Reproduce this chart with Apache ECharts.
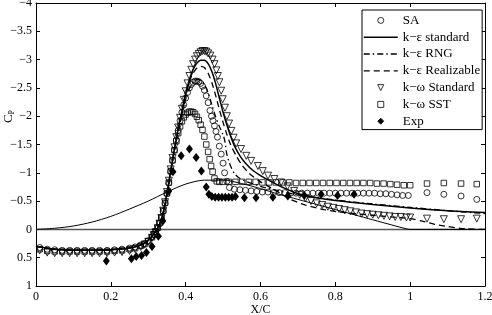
<!DOCTYPE html>
<html>
<head>
<meta charset="utf-8">
<script src="https://cdn.jsdelivr.net/npm/echarts@6/dist/echarts.min.js"></script>
<style>
html,body{margin:0;padding:0;background:#fff}
#chart{width:492px;height:315px}
</style>
</head>
<body>
<div id="chart"></div>
<script>
// x/c positions and Cp values
const xTicks = [0, 0.2, 0.4, 0.6, 0.8, 1, 1.2];
const yTicks = [-4, -3.5, -3, -2.5, -2, -1.5, -1, -0.5, 0, 0.5, 1];

const saPts = [[0.01,0.32],[0.03,0.35],[0.05,0.36],[0.07,0.37],[0.09,0.37],[0.11,0.37],[0.13,0.37],[0.15,0.37],[0.17,0.37],[0.19,0.37],[0.21,0.36],[0.23,0.35],[0.25,0.33],
  [0.265,0.31],[0.28,0.28],[0.29,0.25],[0.30,0.2],[0.31,0.13],
  [0.315,0.09],[0.32,0.04],[0.325,-0.02],[0.33,-0.1],[0.335,-0.2],[0.34,-0.32],[0.345,-0.46],[0.35,-0.63],[0.355,-0.82],[0.36,-1.02],[0.365,-1.22],[0.37,-1.4],[0.375,-1.58],[0.38,-1.75],[0.385,-1.92],[0.39,-2.07],[0.395,-2.2],[0.40,-2.32],[0.405,-2.42],[0.41,-2.5],[0.415,-2.56],[0.42,-2.6],[0.425,-2.62],[0.43,-2.62],[0.435,-2.61],[0.44,-2.58],[0.445,-2.53],[0.45,-2.46],[0.455,-2.36],[0.46,-2.24],[0.465,-2.1],
  [0.469,-2.0],[0.473,-1.92],[0.477,-1.83],[0.481,-1.73],[0.485,-1.63],[0.49,-1.47],[0.495,-1.33],[0.50,-1.17],[0.504,-1.0],[0.51,-0.85],[0.517,-0.74],
  [0.53,-0.71],[0.545,-0.7],[0.56,-0.69],[0.575,-0.68],[0.59,-0.67],[0.605,-0.66],[0.62,-0.66],[0.635,-0.65],[0.65,-0.65],[0.665,-0.65],[0.68,-0.64],[0.695,-0.64],[0.71,-0.64],[0.725,-0.64],[0.74,-0.64],[0.755,-0.64],[0.77,-0.64],[0.785,-0.64],[0.80,-0.64],[0.815,-0.64],[0.83,-0.64],[0.845,-0.64],[0.86,-0.64],[0.875,-0.64],[0.89,-0.64],[0.905,-0.64],[0.92,-0.63],[0.935,-0.63],[0.95,-0.62],[0.965,-0.61],[0.98,-0.6],[0.995,-0.6],
  [1.045,-0.65],[1.09,-0.62],[1.136,-0.59],[1.178,-0.53]];

const kwStdPts = [[0.01,0.37],[0.03,0.41],[0.05,0.42],[0.07,0.42],[0.09,0.42],[0.11,0.42],[0.13,0.42],[0.15,0.42],[0.17,0.42],[0.19,0.42],[0.21,0.41],[0.23,0.4],[0.25,0.38],
  [0.265,0.35],[0.28,0.31],[0.29,0.27],[0.30,0.22],[0.31,0.15],[0.315,0.1],[0.32,0.05],[0.325,-0.02],[0.33,-0.1],[0.335,-0.2],[0.34,-0.33],[0.345,-0.48],[0.35,-0.66],[0.355,-0.86],[0.36,-1.06],[0.365,-1.26],[0.37,-1.45],[0.375,-1.63],[0.38,-1.8],[0.385,-1.97],[0.39,-2.13],[0.395,-2.29],[0.40,-2.44],[0.405,-2.58],[0.41,-2.71],[0.415,-2.82],[0.42,-2.92],[0.425,-3.0],[0.43,-3.06],[0.435,-3.1],[0.44,-3.13],[0.445,-3.15],[0.45,-3.15],[0.455,-3.14],[0.46,-3.11],
  [0.466,-3.07],[0.472,-3.0],[0.477,-2.92],[0.482,-2.81],[0.486,-2.71],[0.49,-2.6],[0.495,-2.45],[0.499,-2.3],[0.505,-2.15],[0.51,-2.0],[0.516,-1.87],[0.522,-1.74],[0.528,-1.62],[0.535,-1.52],[0.548,-1.42],[0.562,-1.3],[0.575,-1.21],[0.593,-1.12],[0.606,-1.03],[0.62,-0.95],[0.637,-0.89],[0.655,-0.83],[0.672,-0.76],[0.69,-0.68],[0.705,-0.61],[0.72,-0.55],[0.735,-0.5],[0.75,-0.46],[0.765,-0.43],[0.78,-0.4],[0.795,-0.38],[0.81,-0.36],[0.825,-0.34],[0.84,-0.32],[0.855,-0.3],[0.87,-0.28],[0.885,-0.27],[0.9,-0.26],[0.915,-0.25],[0.93,-0.24],[0.945,-0.23],[0.96,-0.22],[0.975,-0.22],[0.99,-0.21],[1.0,-0.21],
  [1.045,-0.19],[1.09,-0.18],[1.136,-0.18],[1.178,-0.19]];

const sstPts = [[0.01,0.35],[0.03,0.38],[0.05,0.39],[0.07,0.39],[0.09,0.39],[0.11,0.39],[0.13,0.39],[0.15,0.39],[0.17,0.39],[0.19,0.39],[0.21,0.38],[0.23,0.37],[0.25,0.35],
  [0.265,0.33],[0.28,0.29],[0.29,0.26],[0.30,0.21],[0.31,0.14],[0.315,0.09],[0.32,0.04],[0.325,-0.03],[0.33,-0.11],[0.335,-0.21],[0.34,-0.33],[0.345,-0.47],[0.35,-0.64],[0.355,-0.83],[0.36,-1.03],[0.365,-1.22],[0.37,-1.4],[0.375,-1.56],[0.38,-1.7],[0.385,-1.82],[0.39,-1.91],[0.395,-1.98],[0.40,-2.03],[0.405,-2.06],[0.41,-2.08],[0.415,-2.08],[0.42,-2.07],[0.425,-2.04],[0.43,-1.99],[0.435,-1.93],[0.44,-1.85],[0.445,-1.76],[0.45,-1.64],[0.455,-1.5],[0.46,-1.37],[0.464,-1.24],[0.468,-1.12],[0.472,-1.02],[0.477,-0.9],[0.483,-0.85],[0.49,-0.84],[0.5,-0.84],
  [0.515,-0.84],[0.533,-0.84],[0.551,-0.84],[0.569,-0.84],[0.587,-0.84],[0.605,-0.83],[0.623,-0.83],[0.641,-0.83],[0.659,-0.83],[0.677,-0.83],[0.695,-0.82],[0.713,-0.82],[0.731,-0.82],[0.749,-0.82],[0.767,-0.82],[0.785,-0.82],[0.803,-0.82],[0.821,-0.82],[0.839,-0.82],[0.857,-0.82],[0.875,-0.82],[0.893,-0.82],[0.911,-0.81],[0.929,-0.81],[0.947,-0.8],[0.965,-0.79],[0.983,-0.78],[1.0,-0.78],
  [1.045,-0.81],[1.09,-0.82],[1.136,-0.81],[1.178,-0.8]];

const expPts = [[0.188,0.56],[0.255,0.52],[0.268,0.48],[0.282,0.46],[0.295,0.41],[0.31,0.3],[0.327,0.12],[0.339,-0.15],[0.355,-0.68],[0.366,-1.02],[0.388,-1.3],[0.41,-1.42],[0.428,-1.27],[0.442,-1.03],[0.455,-0.75],
  [0.462,-0.62],[0.47,-0.58],[0.479,-0.57],[0.488,-0.57],[0.497,-0.57],[0.506,-0.57],[0.515,-0.57],[0.524,-0.57],[0.533,-0.58],[0.557,-0.56],[0.588,-0.56],[0.633,-0.57],[0.673,-0.59],[0.717,-0.6],[0.762,-0.62],[0.806,-0.6],[0.85,-0.62]];

const keStdPts = [[0,0.30],[0.05,0.35],[0.1,0.37],[0.15,0.37],[0.2,0.36],[0.24,0.34],[0.27,0.3],[0.29,0.24],[0.30,0.19],[0.31,0.12],[0.32,0.03],[0.33,-0.09],[0.34,-0.3],[0.35,-0.63],[0.36,-1.03],[0.37,-1.42],[0.38,-1.77],[0.39,-2.1],[0.40,-2.4],[0.41,-2.65],[0.42,-2.83],[0.43,-2.94],[0.44,-2.99],[0.45,-2.99],[0.46,-2.93],[0.47,-2.79],[0.48,-2.58],[0.49,-2.32],[0.50,-2.07],[0.51,-1.85],[0.52,-1.65],[0.53,-1.48],[0.545,-1.3],[0.56,-1.17],[0.58,-1.04],[0.6,-0.95],[0.63,-0.84],[0.66,-0.74],[0.7,-0.63],[0.75,-0.56],[0.8,-0.51],[0.9,-0.44],[1.0,-0.38],[1.1,-0.33],[1.2,-0.3]];

const keRngPts = [[0,0.30],[0.05,0.35],[0.1,0.37],[0.15,0.37],[0.2,0.36],[0.24,0.34],[0.27,0.3],[0.29,0.24],[0.30,0.19],[0.31,0.12],[0.32,0.03],[0.33,-0.09],[0.34,-0.3],[0.35,-0.63],[0.36,-1.02],[0.37,-1.4],[0.38,-1.74],[0.39,-2.04],[0.40,-2.3],[0.41,-2.49],[0.42,-2.6],[0.43,-2.65],[0.44,-2.64],[0.45,-2.56],[0.46,-2.41],[0.47,-2.2],[0.48,-1.99],[0.49,-1.82],[0.5,-1.67],[0.505,-1.55],[0.51,-1.33],[0.52,-1.12],[0.53,-0.99],[0.545,-0.9],[0.56,-0.85],[0.6,-0.76],[0.65,-0.68],[0.7,-0.61],[0.8,-0.52],[0.9,-0.45],[1.0,-0.39],[1.1,-0.33],[1.2,-0.28]];

const keRealPts = [[0,0.30],[0.05,0.35],[0.1,0.37],[0.15,0.37],[0.2,0.36],[0.24,0.34],[0.27,0.3],[0.29,0.24],[0.30,0.19],[0.31,0.12],[0.32,0.03],[0.33,-0.09],[0.34,-0.3],[0.35,-0.63],[0.36,-1.03],[0.37,-1.42],[0.38,-1.76],[0.39,-2.08],[0.40,-2.37],[0.41,-2.62],[0.42,-2.76],[0.43,-2.85],[0.44,-2.88],[0.45,-2.86],[0.46,-2.76],[0.47,-2.59],[0.48,-2.37],[0.49,-2.12],[0.50,-1.89],[0.51,-1.68],[0.52,-1.5],[0.535,-1.3],[0.55,-1.14],[0.57,-0.99],[0.6,-0.84],[0.64,-0.69],[0.68,-0.53],[0.72,-0.43],[0.77,-0.35],[0.82,-0.3],[0.9,-0.25],[0.95,-0.22],[1.0,-0.19],[1.03,-0.15],[1.065,-0.09],[1.1,-0.05],[1.15,-0.01],[1.2,0.0]];

// hill profile and the zero line (not in the legend)
const profilePts = [[0,0],[0.05,-0.02],[0.1,-0.06],[0.15,-0.13],[0.2,-0.23],[0.25,-0.36],[0.3,-0.5],[0.35,-0.66],[0.4,-0.8],[0.45,-0.87],[0.5,-0.87],[0.55,-0.81],[0.6,-0.72],[0.65,-0.62],[0.7,-0.53],[0.75,-0.44],[0.8,-0.35],[0.85,-0.26],[0.9,-0.17],[0.95,-0.08],[0.99,-0.01],[1.0,0],[1.2,0]];
const zeroPts = [[0,0],[1.2,0]];

const font = 'Liberation Serif';
const fmt = v => (v < 0 ? '\u2212' : '') + Math.abs(v);

const chart = echarts.init(document.getElementById('chart'));

function xAx(pos, labels) {
  return {
    type: 'value', position: pos, min: xTicks[0], max: xTicks[xTicks.length - 1], interval: 0.2,
    splitLine: {show: false},
    axisLine: {show: true, onZero: false, lineStyle: {color: '#000', width: 1}},
    axisTick: {show: true, inside: true, length: 4, lineStyle: {color: '#000'}},
    axisLabel: {show: labels, fontFamily: font, fontSize: 12, color: '#000', margin: 5, formatter: fmt}
  };
}
function yAx(pos, labels) {
  return {
    type: 'value', position: pos, inverse: true, min: yTicks[0], max: yTicks[yTicks.length - 1], interval: 0.5,
    splitLine: {show: false},
    axisLine: {show: true, onZero: false, lineStyle: {color: '#000', width: 1}},
    axisTick: {show: true, inside: true, length: 4, lineStyle: {color: '#000'}},
    axisLabel: {show: labels, fontFamily: font, fontSize: 12, color: '#000', margin: 4, formatter: fmt}
  };
}

const xBottom = xAx('bottom', true);
xBottom.name = 'X/C';
xBottom.nameLocation = 'middle';
xBottom.nameGap = 18;
xBottom.nameMoveOverlap = false;
xBottom.nameTextStyle = {fontFamily: font, fontSize: 12, color: '#000'};

const yLeft = yAx('left', true);
yLeft.name = '{c|C}{p|P}';
yLeft.nameLocation = 'middle';
yLeft.nameRotate = 90;
yLeft.nameGap = 20;
yLeft.nameMoveOverlap = false;
yLeft.nameTextStyle = {
  color: '#000', padding: [0, 0, 0, 56],
  rich: {
    c: {fontFamily: font, fontSize: 13, color: '#000'},
    p: {fontFamily: font, fontSize: 8, color: '#000', verticalAlign: 'bottom', padding: [6, 0, 0, 0]}
  }
};

// marker-only series: line type with an invisible line so legend symbols keep their shape
function marks(name, pts, symbol, size, filled, rotate) {
  return {
    name: name, type: 'line', data: pts, symbol: symbol, symbolSize: size, symbolRotate: rotate || 0,
    showSymbol: true, showAllSymbol: true,
    lineStyle: {width: 0, opacity: 0},
    itemStyle: {color: filled ? '#000' : 'rgba(0,0,0,0)', borderColor: '#000', borderWidth: filled ? 0 : 0.8},
    z: 3
  };
}
function curve(name, pts, dash, width) {
  return {
    name: name, type: 'line', data: pts, symbol: 'none', smooth: 0.25,
    lineStyle: {color: '#000', width: width, type: dash}, itemStyle: {color: '#000'},
    z: 4
  };
}

chart.setOption({
  animation: false,
  backgroundColor: '#fff',
  grid: {left: 36, right: 7, top: 3, bottom: 29, containLabel: false, outerBoundsMode: 'none'},
  xAxis: [xBottom, xAx('top', false)],
  yAxis: [yLeft, yAx('right', false)],
  legend: {
    orient: 'vertical', left: 362, top: 10,
    padding: [2, 2, 0, 1],
    itemWidth: 34, itemHeight: 7.5, itemGap: 0,
    backgroundColor: '#fff', borderColor: '#000', borderWidth: 1,
    textStyle: {fontFamily: font, fontSize: 13, color: '#000', lineHeight: 16.8},
    itemStyle: {borderWidth: 0.8},
    data: [
      {name: 'SA', lineStyle: {opacity: 0}},
      {name: 'k\u2212\u03b5 standard', itemStyle: {opacity: 0}, lineStyle: {width: 1.5}},
      {name: 'k\u2212\u03b5 RNG', itemStyle: {opacity: 0}, lineStyle: {width: 1.3}},
      {name: 'k\u2212\u03b5 Realizable', itemStyle: {opacity: 0}, lineStyle: {width: 1.3}},
      {name: 'k\u2212\u03c9 Standard', lineStyle: {opacity: 0}},
      {name: 'k\u2212\u03c9 SST', lineStyle: {opacity: 0}},
      {name: 'Exp', lineStyle: {opacity: 0}}
    ]
  },
  series: [
    {name: 'zero', type: 'line', data: zeroPts, symbol: 'none', lineStyle: {color: '#555', width: 1.5}, z: 1},
    {name: 'profile', type: 'line', data: profilePts, symbol: 'none', smooth: 0.3, lineStyle: {color: '#000', width: 1}, z: 2},
    marks('SA', saPts, 'circle', 6, false),
    curve('k\u2212\u03b5 standard', keStdPts, 'solid', 1.5),
    curve('k\u2212\u03b5 RNG', keRngPts, [6, 3, 1.5, 3], 1.3),
    curve('k\u2212\u03b5 Realizable', keRealPts, [6, 4], 1.3),
    marks('k\u2212\u03c9 Standard', kwStdPts, 'triangle', 7, false, 180),
    marks('k\u2212\u03c9 SST', sstPts, 'rect', 5.5, false),
    marks('Exp', expPts, 'diamond', [7, 9], true)
  ]
});
</script>
</body>
</html>
